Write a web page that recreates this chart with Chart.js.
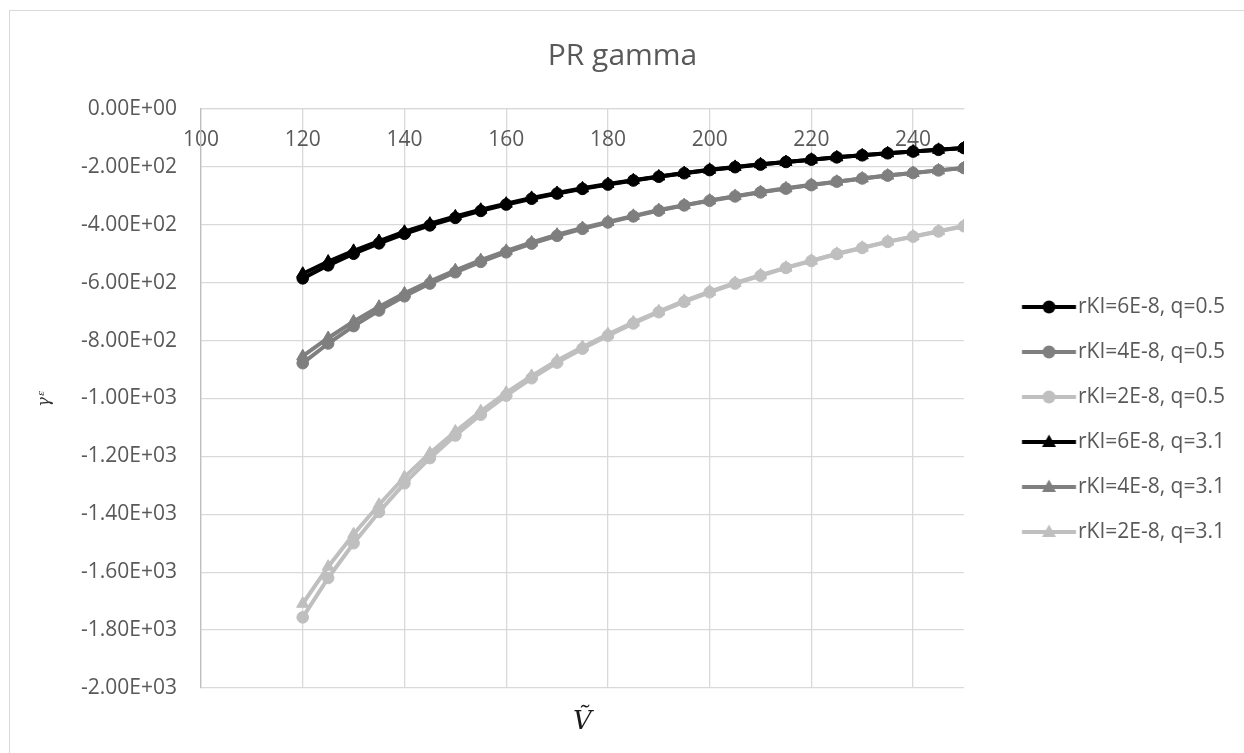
<!DOCTYPE html>
<html>
<head>
<meta charset="utf-8">
<script src="https://cdn.jsdelivr.net/npm/chart.js@4.4.1/dist/chart.umd.min.js"></script>
<style>
  html, body { margin: 0; padding: 0; background: #ffffff; overflow: hidden; }
  #wrap { position: relative; width: 1244px; height: 753px; overflow: hidden; }
  #frame { position: absolute; left: 9px; top: 10px; width: 1300px; height: 800px; border: 1px solid #d9d9d9; pointer-events: none; }
  canvas { position: absolute; left: 0; top: 0; }
</style>
</head>
<body>
<div id="wrap">
  <canvas id="c" width="1244" height="753"></canvas>
  <div id="frame"></div>
</div>
<script>
// ---- data ----
const chartTitle = "PR gamma";
const xTitle = "\u1E7C";
const yTitle = "\u03B3\u1D4B";
const xValues = [120,125,130,135,140,145,150,155,160,165,170,175,180,185,190,195,200,205,210,215,220,225,230,235,240,245,250];
const xTickValues = [100,120,140,160,180,200,220,240];
const yTickValues = [0,-200,-400,-600,-800,-1000,-1200,-1400,-1600,-1800,-2000];
const seriesNames = ["rKI=6E-8, q=0.5","rKI=4E-8, q=0.5","rKI=2E-8, q=0.5","rKI=6E-8, q=3.1","rKI=4E-8, q=3.1","rKI=2E-8, q=3.1"];
const s6q05 = [-585,-540,-500,-464,-431,-402,-376,-352,-330,-310,-292,-276,-261,-247,-234,-222,-211,-201,-192,-183,-175,-167,-160,-153,-147,-141,-135];
const s4q05 = [-878,-810,-750,-696,-647,-603,-564,-528,-495,-465,-438,-414,-392,-371,-351,-333,-317,-302,-288,-275,-263,-251,-240,-230,-221,-212,-204];
const s2q05 = [-1756,-1620,-1500,-1392,-1293,-1206,-1128,-1056,-990,-930,-876,-828,-783,-741,-702,-666,-633,-603,-576,-549,-525,-501,-480,-459,-441,-423,-405];
const s6q31 = [-569,-527,-490,-456,-424,-396,-371,-348,-327,-307,-290,-274,-259,-246,-233,-221,-210,-200,-191,-183,-175,-167,-160,-153,-147,-141,-135];
const s4q31 = [-854,-791,-734,-683,-637,-595,-557,-522,-490,-461,-434,-411,-390,-369,-349,-332,-316,-301,-287,-274,-262,-251,-240,-230,-221,-212,-204];
const s2q31 = [-1709,-1581,-1469,-1367,-1272,-1189,-1114,-1044,-980,-922,-869,-822,-778,-737,-699,-663,-631,-601,-574,-548,-524,-500,-479,-458,-440,-422,-404];
const seriesValues = [s6q05, s4q05, s2q05, s6q31, s4q31, s2q31];
const seriesColors = ["#000000","#7f7f7f","#bfbfbf","#000000","#7f7f7f","#bfbfbf"];
const seriesMarkers = ["circle","circle","circle","triangle","triangle","triangle"];

// ---- helpers ----
function sci(v) {
  if (v === 0) return "0.00E+00";
  const sign = v < 0 ? "-" : "";
  const a = Math.abs(v);
  let e = Math.floor(Math.log10(a) + 1e-12);
  let m = a / Math.pow(10, e);
  if (m.toFixed(2) === "10.00") { m = m / 10; e += 1; }
  return sign + m.toFixed(2) + "E" + (e < 0 ? "-" : "+") + String(Math.abs(e)).padStart(2, "0");
}

// legend icon: line + marker, placed in a wider transparent canvas so that
// the line sits where the reference legend draws it
const ICON_W = 160, LINE_START = 74.25, LINE_LEN = 54;
function legendIcon(color, marker) {
  const c = document.createElement("canvas");
  c.width = ICON_W; c.height = 18;
  const g = c.getContext("2d");
  g.strokeStyle = color; g.lineWidth = 4;
  g.beginPath(); g.moveTo(LINE_START, 9); g.lineTo(LINE_START + LINE_LEN, 9); g.stroke();
  g.fillStyle = color;
  const cx = LINE_START + LINE_LEN / 2;
  g.beginPath();
  if (marker === "circle") {
    g.arc(cx, 9, 6.5, 0, Math.PI * 2);
  } else {
    g.moveTo(cx, 1.5); g.lineTo(cx + 7, 14); g.lineTo(cx - 7, 14); g.closePath();
  }
  g.fill();
  return c;
}

const FONT = "'Open Sans', 'Liberation Sans', sans-serif";
Chart.defaults.font.family = FONT;
Chart.defaults.color = "#595959";

const datasets = seriesValues.map((vals, i) => ({
  label: seriesNames[i],
  data: xValues.map((x, j) => ({ x: x, y: vals[j] })),
  showLine: true,
  borderColor: seriesColors[i],
  backgroundColor: seriesColors[i],
  borderWidth: 4,
  pointStyle: seriesMarkers[i],
  pointRadius: seriesMarkers[i] === "circle" ? 5.8 : 7,
  pointBorderWidth: 1,
  pointBorderColor: seriesColors[i],
  pointBackgroundColor: seriesColors[i],
  order: 6 - i,
  tension: 0
}));

new Chart(document.getElementById("c"), {
  type: "scatter",
  data: { datasets: datasets },
  options: {
    responsive: false,
    animation: false,
    devicePixelRatio: 1,
    layout: { padding: { left: 10, top: 10, right: 9, bottom: 22 } },
    plugins: {
      tooltip: { enabled: false },
      title: {
        display: true,
        text: chartTitle,
        color: "#595959",
        font: { family: FONT, size: 30, weight: "normal", lineHeight: 1.2 },
        padding: { top: 28, bottom: 35 }
      },
      legend: {
        position: "right",
        align: "start",
        title: {
          display: true,
          text: " ",
          font: { size: 12, lineHeight: 1.2 },
          padding: { top: 248.1, bottom: 0 }
        },
        labels: {
          usePointStyle: true,
          pointStyleWidth: 79.5,
          padding: 24,
          color: "#595959",
          font: { family: FONT, size: 21 },
          generateLabels: function (chart) {
            return seriesNames.map((n, i) => ({
              text: n,
              pointStyle: legendIcon(seriesColors[i], seriesMarkers[i]),
              fillStyle: seriesColors[i],
              strokeStyle: seriesColors[i],
              lineWidth: 0,
              hidden: false,
              datasetIndex: i,
              fontColor: "#595959"
            }));
          }
        }
      }
    },
    scales: {
      x: {
        type: "linear",
        position: { y: 0 },
        min: 100,
        max: 250,
        afterBuildTicks: function (s) { s.ticks = xTickValues.map(v => ({ value: v })); },
        ticks: { padding: 18, color: "#595959", font: { family: FONT, size: 21 }, maxRotation: 0, autoSkip: false },
        grid: { color: "#d9d9d9", lineWidth: 1.3, drawTicks: false },
        border: { display: true, color: "#d9d9d9", width: 1.3 }
      },
      x2: {
        type: "linear",
        position: "bottom",
        min: 100,
        max: 250,
        afterFit: function (s) { s.height = 43; },
        ticks: { display: false },
        grid: { display: false, drawTicks: false },
        border: { display: false },
        title: {
          display: true,
          text: xTitle,
          color: "#1a1a1a",
          font: { family: "'DejaVu Serif', serif", size: 26, style: "italic", lineHeight: 1.2 },
          padding: { top: 0, bottom: -6.6 }
        }
      },
      y: {
        type: "linear",
        position: "left",
        min: -2000,
        max: 0,
        afterBuildTicks: function (s) { s.ticks = yTickValues.map(v => ({ value: v })); },
        afterFit: function (s) { s.width = 191; },
        ticks: { padding: 24, color: "#595959", font: { family: FONT, size: 21 }, callback: function (v) { return sci(v); } },
        grid: { color: "#d9d9d9", lineWidth: 1.3, drawTicks: false },
        border: { display: true, color: "#bfbfbf", width: 1.3 },
        title: {
          display: true,
          text: yTitle,
          color: "#333333",
          font: { family: "'DejaVu Serif', serif", size: 16, style: "italic", lineHeight: 1.2 },
          padding: { top: 25.4, bottom: 0 }
        }
      }
    }
  }
});
</script>
</body>
</html>
